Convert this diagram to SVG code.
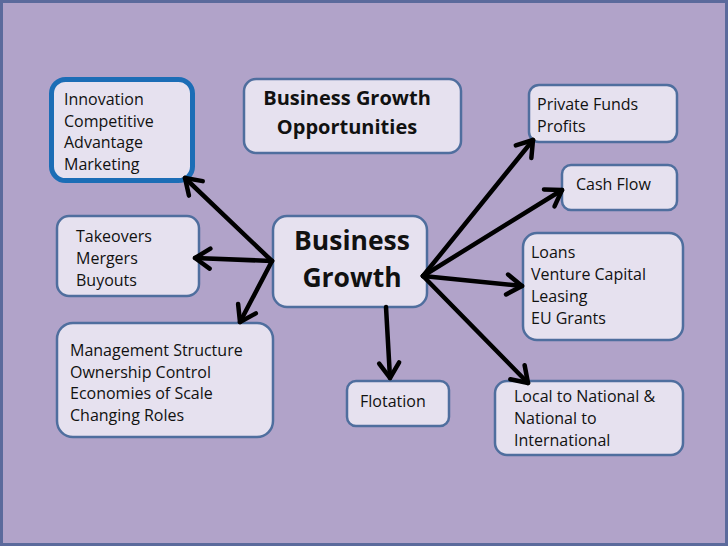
<svg xmlns="http://www.w3.org/2000/svg" width="728" height="546" viewBox="0 0 728 546">
<defs>
<style>
.bg{fill:#B1A3C9;stroke:#5B6A9C;stroke-width:3}
.box{fill:#E6E1EF;stroke:#4F6E9E;stroke-width:2.5}
.hl{fill:#E6E1EF;stroke:#1C6DB6;stroke-width:5}
.t{font-family:"Open Sans","Liberation Sans",sans-serif;font-size:16px;fill:#111}
.tb{font-family:"Open Sans","Liberation Sans",sans-serif;font-weight:bold;fill:#111;text-anchor:middle}
.c{fill:none;stroke:#000;stroke-width:4.5;stroke-linecap:round}
</style>
<marker id="ah" markerUnits="userSpaceOnUse" markerWidth="26" markerHeight="26" viewBox="0 0 26 26" refX="20" refY="13" orient="auto">
<path d="M5,3 L20,13 L5,23" fill="none" stroke="#000" stroke-width="4.5" stroke-linecap="round" stroke-linejoin="round"/>
</marker>
</defs>
<rect class="bg" x="1.5" y="1.5" width="725" height="543"/>

<g id="n-innovation">
<rect class="hl" x="51.5" y="79.5" width="141" height="101" rx="14"/>
<text class="t" x="64" y="105">Innovation</text>
<text class="t" x="64" y="127">Competitive</text>
<text class="t" x="64" y="148">Advantage</text>
<text class="t" x="64" y="170">Marketing</text>
</g>
<g id="n-title">
<rect class="box" x="244" y="79" width="217" height="74" rx="12"/>
<text class="tb" x="347" y="105" font-size="20">Business Growth</text>
<text class="tb" x="347" y="134" font-size="20">Opportunities</text>
</g>
<g id="n-takeovers">
<rect class="box" x="57" y="216" width="142" height="80" rx="12"/>
<text class="t" x="76" y="242">Takeovers</text>
<text class="t" x="76" y="264">Mergers</text>
<text class="t" x="76" y="286">Buyouts</text>
</g>
<g id="n-center">
<rect class="box" x="273" y="216" width="154" height="91" rx="14"/>
<text class="tb" x="352" y="250" font-size="26.5">Business</text>
<text class="tb" x="352" y="287" font-size="26.5">Growth</text>
</g>
<g id="n-management">
<rect class="box" x="57" y="323" width="216" height="114" rx="16"/>
<text class="t" x="70" y="356">Management Structure</text>
<text class="t" x="70" y="378">Ownership Control</text>
<text class="t" x="70" y="399">Economies of Scale</text>
<text class="t" x="70" y="421">Changing Roles</text>
</g>
<g id="n-flotation">
<rect class="box" x="347" y="381" width="102" height="45" rx="9"/>
<text class="t" x="360" y="407">Flotation</text>
</g>
<g id="n-private">
<rect class="box" x="529" y="85" width="148" height="57" rx="10"/>
<text class="t" x="537" y="110">Private Funds</text>
<text class="t" x="537" y="132">Profits</text>
</g>
<g id="n-cashflow">
<rect class="box" x="562" y="165" width="115" height="45" rx="9"/>
<text class="t" x="576" y="190">Cash Flow</text>
</g>
<g id="n-loans">
<rect class="box" x="523" y="233" width="160" height="107" rx="14"/>
<text class="t" x="531" y="258">Loans</text>
<text class="t" x="531" y="280">Venture Capital</text>
<text class="t" x="531" y="302">Leasing</text>
<text class="t" x="531" y="324">EU Grants</text>
</g>
<g id="n-local">
<rect class="box" x="495" y="381" width="188" height="74" rx="12"/>
<text class="t" x="514" y="402">Local to National &amp;</text>
<text class="t" x="514" y="424">National to</text>
<text class="t" x="514" y="446">International</text>
</g>

<g id="connectors">
<line class="c" x1="272" y1="261" x2="185" y2="178" marker-end="url(#ah)"/>
<line class="c" x1="272" y1="261" x2="195" y2="258" marker-end="url(#ah)"/>
<line class="c" x1="272" y1="261" x2="240" y2="322" marker-end="url(#ah)"/>
<line class="c" x1="386" y1="307" x2="390" y2="378" marker-end="url(#ah)"/>
<line class="c" x1="423" y1="276" x2="533" y2="140" marker-end="url(#ah)"/>
<line class="c" x1="423" y1="276" x2="562" y2="190" marker-end="url(#ah)"/>
<line class="c" x1="423" y1="276" x2="522" y2="286" marker-end="url(#ah)"/>
<line class="c" x1="423" y1="276" x2="528" y2="383" marker-end="url(#ah)"/>
</g>
</svg>
